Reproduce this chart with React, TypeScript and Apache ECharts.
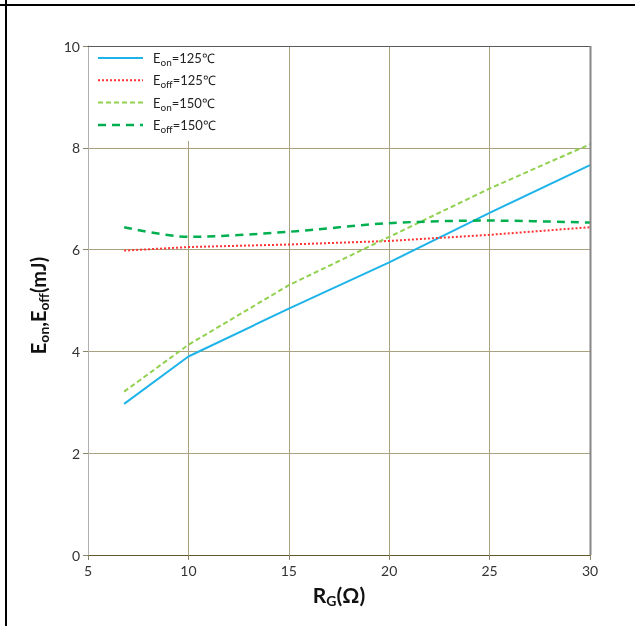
import React, { useEffect, useRef } from "react";
import * as echarts from "echarts";

const rg = [6.8, 10, 15, 20, 25, 30];
const eon125 = [2.97, 3.9, 4.84, 5.75, 6.72, 7.66];
const eoff125 = [5.98, 6.05, 6.1, 6.17, 6.29, 6.44];
const eon150 = [3.21, 4.13, 5.3, 6.25, 7.2, 8.07];
const eoff150 = [6.44, 6.25, 6.35, 6.52, 6.57, 6.53];
const legendLabels = [
  ["on", "125℃"],
  ["off", "125℃"],
  ["on", "150℃"],
  ["off", "150℃"],
];

const FONT = "Lato, 'Open Sans', sans-serif";
const colors = ["#1EB4EA", "#FF3333", "#92D050", "#00B050"];
const dashes: any[] = ["solid", [2, 2], [5, 3], [8, 6]];
const widths = [2, 2, 2, 2.5];

const pair = (xs: number[], ys: number[]) => xs.map((x, i) => [x, ys[i]]);

export default function App() {
  const ref = useRef<HTMLDivElement>(null);
  useEffect(() => {
    const chart = echarts.init(ref.current!, null, { renderer: "svg" });
    const allSeries = [eon125, eoff125, eon150, eoff150];
    const legendTop = 58;
    const legendGap = 22.3;
    const legendGraphics: any[] = [
      { type: "rect", shape: { x: 89, y: 47, width: 155, height: 94 }, style: { fill: "#fff" }, z: 10 },
    ];
    legendLabels.forEach((l, i) => {
      const y = legendTop + i * legendGap;
      legendGraphics.push({
        type: "line",
        shape: { x1: 98, y1: y, x2: 143, y2: y },
        style: { stroke: colors[i], lineWidth: widths[i], lineDash: dashes[i] === "solid" ? null : dashes[i] },
        z: 11,
      });
      legendGraphics.push({
        type: "text",
        x: 153,
        y: y,
        style: {
          text: `E{sub|${l[0]}}=${l[1]}`,
          font: `13px ${FONT}`,
          fill: "#222",
          verticalAlign: "middle",
          rich: { sub: { fontSize: 10, fontFamily: FONT, padding: [8, 0, 0, 0], fill: "#222" } },
        },
        z: 11,
      });
    });
    chart.setOption({
      animation: false,
      grid: { left: 88, right: 45, top: 46, bottom: 71 },
      xAxis: {
        type: "value",
        min: 5,
        max: 30,
        interval: 5,
        name: "R{sub|G}(Ω)",
        nameLocation: "middle",
        nameGap: 27,
        nameTextStyle: {
          fontFamily: FONT,
          fontSize: 21,
          fontWeight: "bold",
          color: "#111",
          rich: { sub: { fontSize: 14, fontWeight: "bold", fontFamily: FONT, padding: [11, 0, 0, 0], color: "#111" } },
        },
        axisLine: { lineStyle: { color: "#5E5A2E", width: 1 } },
        axisTick: { show: true, length: 5, lineStyle: { color: "#8A8466" } },
        axisLabel: { fontFamily: FONT, fontSize: 14, color: "#333", margin: 8 },
        splitLine: { show: true, lineStyle: { color: "#A8A27F", width: 1 } },
      },
      yAxis: {
        type: "value",
        min: 0,
        max: 10,
        interval: 2,
        name: "E{sub|on},E{sub|off}(mJ)",
        nameLocation: "middle",
        nameGap: 38,
        nameRotate: 90,
        nameTextStyle: {
          fontFamily: FONT,
          fontSize: 20,
          fontWeight: "bold",
          color: "#111",
          padding: [0, 10, 0, 0],
          rich: { sub: { fontSize: 14, fontWeight: "bold", fontFamily: FONT, padding: [11, 0, 0, 0], color: "#111" } },
        },
        axisLine: { show: true, lineStyle: { color: "#B0B0B0", width: 1 } },
        axisTick: { show: true, length: 5, lineStyle: { color: "#8A8466" } },
        axisLabel: { fontFamily: FONT, fontSize: 14, color: "#333", margin: 8 },
        splitLine: { show: true, lineStyle: { color: "#A8A27F", width: 1 } },
      },
      series: allSeries.map((ys, i) => ({
        type: "line",
        data: pair(rg, ys),
        showSymbol: false,
        smooth: i === 3 ? 0.3 : false,
        lineStyle: { color: colors[i], width: widths[i], type: dashes[i] },
        z: 5,
      })),
      graphic: [
        { type: "line", shape: { x1: 0, y1: 5, x2: 635, y2: 5 }, style: { stroke: "#000", lineWidth: 2 } },
        { type: "line", shape: { x1: 6, y1: 0, x2: 6, y2: 626 }, style: { stroke: "#000", lineWidth: 2 } },
        { type: "line", shape: { x1: 88, y1: 46.5, x2: 590, y2: 46.5 }, style: { stroke: "#5A5A5A", lineWidth: 1 }, z: 12 },
        { type: "line", shape: { x1: 590.5, y1: 46, x2: 590.5, y2: 555 }, style: { stroke: "#868686", lineWidth: 2 }, z: 12 },
        ...legendGraphics,
      ],
    });
    return () => chart.dispose();
  }, []);
  return <div ref={ref} style={{ position: "fixed", left: 0, top: 0, width: 635, height: 626 }} />;
}
